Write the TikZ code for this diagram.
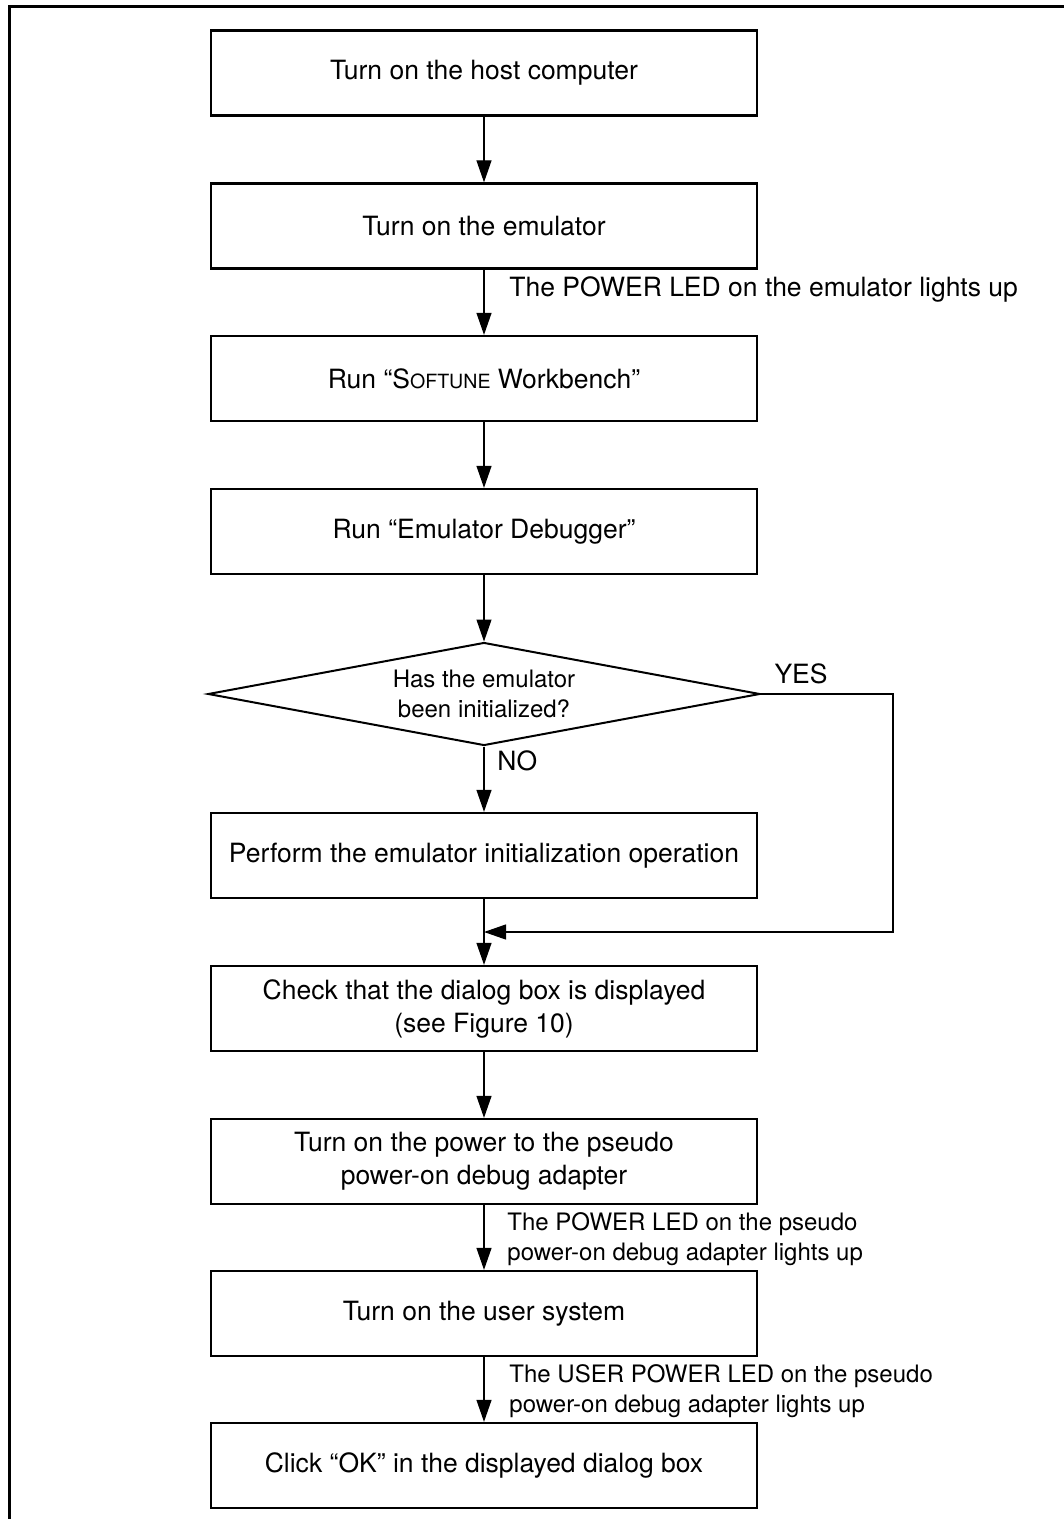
\documentclass[tikz,border=0pt]{standalone}
\usepackage{fontspec}
\setmainfont{TeX Gyre Heros}
\usetikzlibrary{arrows.meta,shapes.geometric}
\newcommand\mainsz{\fontsize{13.25pt}{16.5pt}\selectfont}
\newcommand\smallsz{\fontsize{12pt}{15pt}\selectfont}
\newcommand\softunesc{S{\fontsize{9.8pt}{9.8pt}\selectfont OFTUNE}}
\begin{document}
\begin{tikzpicture}[x=0.5pt,y=-0.5pt,
  box/.style={draw, line width=1.15pt, minimum width=273pt, minimum height=42.5pt,
    inner sep=0pt, align=center, font=\mainsz},
  decision/.style={draw, diamond, line width=1pt, minimum width=276pt, minimum height=51.5pt,
    inner sep=0pt, align=center, font=\smallsz, aspect=5.36},
  conn/.style={line width=0.6pt, -{Triangle[length=11pt,width=7.5pt]}},
  plain/.style={line width=0.6pt},
  lbl/.style={inner sep=0pt, font=\mainsz},
  lbls/.style={inner sep=0pt, font=\smallsz, align=left}]
\useasboundingbox (0,0) rectangle (1064,1519);
% outer frame (cropped)
\draw[line width=1.4pt] (9.5,1530) -- (9.5,6.7) -- (1075,6.7);
% nodes
\node[box] (b1) at (484,73) {Turn on the host computer};
\node[box] (b2) at (484,226) {Turn on the emulator};
\node[box] (b3) at (484,378.5) {Run “\softunesc{} Workbench”};
\node[box] (b4) at (484,531.5) {Run “Emulator Debugger”};
\node[decision] (dia) at (484,694) {Has the emulator\\been initialized?};
\node[box] (b5) at (484,855.5) {Perform the emulator initialization operation};
\node[box] (b6) at (484,1008.5) {Check that the dialog box is displayed\\(see Figure 10)};
\node[box] (b7) at (484,1161.5) {Turn on the power to the pseudo\\power-on debug adapter};
\node[box] (b8) at (484,1313.5) {Turn on the user system};
\node[box] (b9) at (484,1465.5) {Click “OK” in the displayed dialog box};
\coordinate (yc) at (893,932);
\coordinate (jn) at (484,932);
% labels
\node[lbl, anchor=base west] (l1) at (509,297) {The POWER LED on the emulator lights up};
\node[lbl, anchor=center] (yes) at (801,674) {YES};
\node[lbl, anchor=west] (no) at (497,761) {NO};
\node[lbls, anchor=west] (l2) at (507,1239) {The POWER LED on the pseudo\\power-on debug adapter lights up};
\node[lbls, anchor=west] (l3) at (509,1391) {The USER POWER LED on the pseudo\\power-on debug adapter lights up};
% connectors
\draw[conn] (b1.south) -- (b2.north);
\draw[conn] (b2.south) -- (b3.north);
\draw[conn] (b3.south) -- (b4.north);
\draw[conn] (b4.south) -- (dia.north);
\draw[conn] (dia.south) -- (b5.north);
\draw[plain] (b5.south) -- (jn);
\draw[conn] (jn) -- (b6.north);
\draw[conn] (dia.east) -| (yc) -- (jn);
\draw[conn] (b6.south) -- (b7.north);
\draw[conn] (b7.south) -- (b8.north);
\draw[conn] (b8.south) -- (b9.north);
\end{tikzpicture}
\end{document}
